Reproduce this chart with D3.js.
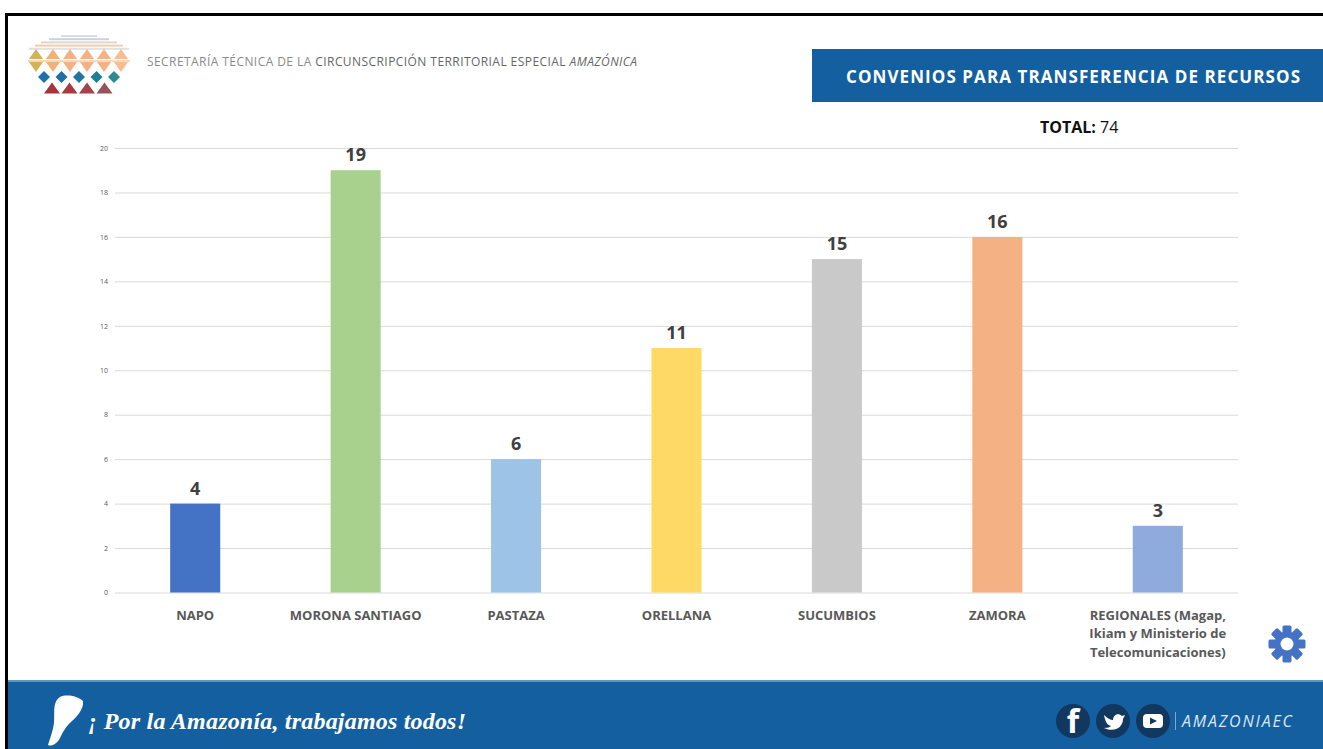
<!DOCTYPE html>
<html>
<head>
<meta charset="utf-8">
<script src="https://cdn.jsdelivr.net/npm/d3@7"></script>
<style>
  html, body { margin: 0; padding: 0; background: #fff; overflow: hidden; }
  text { font-family: "Open Sans", "Noto Sans", sans-serif; }
</style>
</head>
<body>
<script>
// chart data
var categories = ['NAPO', 'MORONA SANTIAGO', 'PASTAZA', 'ORELLANA', 'SUCUMBIOS', 'ZAMORA', 'REGIONALES'];
var values = [4, 19, 6, 11, 15, 16, 3];
var barColors = ['#4472c4', '#a9d18e', '#9dc3e6', '#ffd966', '#c9c9c9', '#f4b183', '#8faadc'];
var yTicks = [0, 2, 4, 6, 8, 10, 12, 14, 16, 18, 20];
var categoryLines = [['NAPO'], ['MORONA SANTIAGO'], ['PASTAZA'], ['ORELLANA'], ['SUCUMBIOS'], ['ZAMORA'],
  ['REGIONALES (Magap,', 'Ikiam y Ministerio de', 'Telecomunicaciones)']];

var blue = '#135f9f';
var outerWidth = 1323;
var outerHeight = 749;

var margin = {top: 148, right: 85, bottom: 156.5, left: 115},
    width = outerWidth - margin.left - margin.right,
    height = outerHeight - margin.top - margin.bottom;

var svg = d3.select('body').append('svg')
    .attr('width', outerWidth)
    .attr('height', outerHeight)
    .style('display', 'block');

// slide frame
svg.append('rect').attr('x', 5).attr('y', 13).attr('width', outerWidth).attr('height', 3).attr('fill', '#000');
svg.append('rect').attr('x', 5).attr('y', 13).attr('width', 3).attr('height', outerHeight).attr('fill', '#000');

// logo rows of small shapes
var logo = svg.append('g');
['#d9dde6', '#c6d3e6', '#e2d5cf', '#efcdb0', '#dfe0e0'].forEach(function(c, i) {
  var half = [18, 30, 38, 44, 50][i];
  logo.append('rect').attr('x', 79 - half).attr('y', 35 + i * 3.2).attr('width', half * 2).attr('height', 2).attr('fill', c);
});
function triangle(cx, cy, s, up) {
  return up ? `M${cx - s},${cy + s * 0.7}L${cx},${cy - s * 0.7}L${cx + s},${cy + s * 0.7}Z`
            : `M${cx - s},${cy - s * 0.7}L${cx},${cy + s * 0.7}L${cx + s},${cy - s * 0.7}Z`;
}
var logoWarm = ['#d4b25a', '#f0b27c', '#f4b183', '#f4b183', '#f4b183', '#f7bd90'];
logoWarm.forEach(function(c, i) {
  var cx = 36 + i * 17;
  logo.append('path').attr('d', triangle(cx, 68 - 14, 7, true)).attr('fill', c);
  logo.append('path').attr('d', triangle(cx, 67, 7, false)).attr('fill', c);
});
logo.append('rect').attr('x', 28).attr('y', 60).attr('width', 102).attr('height', 2).attr('fill', '#f3d9bd');
['#1f6fa8', '#1f6fa8', '#1f76a3', '#1f7d9c', '#2a8a8f'].forEach(function(c, i) {
  var cx = 44 + i * 17.5;
  logo.append('path').attr('d', `M${cx - 6},77L${cx},71L${cx + 6},77L${cx},83Z`).attr('fill', c);
});
['#a8333c', '#a83a42', '#a3434a', '#94555a'].forEach(function(c, i) {
  logo.append('path').attr('d', triangle(52 + i * 17.5, 88, 8, true)).attr('fill', c);
});

// header text
var head = svg.append('text').attr('x', 147).attr('y', 66)
    .style('font-size', '12px').attr('fill', '#8a8a8a').attr('textLength', 490);
head.append('tspan').text('SECRETARÍA TÉCNICA DE LA ');
head.append('tspan').attr('fill', '#666').text('CIRCUNSCRIPCIÓN TERRITORIAL ESPECIAL ');
head.append('tspan').attr('fill', '#666').style('font-style', 'italic').text('AMAZÓNICA');

// title box
svg.append('rect').attr('x', 812).attr('y', 49).attr('width', 511).attr('height', 53).attr('fill', blue);
svg.append('text').attr('x', 846).attr('y', 83).attr('fill', '#fff')
    .attr('textLength', 454)
    .style('font-size', '17px').style('font-weight', 700)
    .text('CONVENIOS PARA TRANSFERENCIA DE RECURSOS');

var total = svg.append('text').attr('x', 1040).attr('y', 133).attr('fill', '#111').style('font-size', '16px');
total.append('tspan').style('font-weight', 700).text('TOTAL: ');
total.append('tspan').text('74');

// scales
var x = d3.scaleBand().domain(categories).range([0, width]).paddingInner(0.688).paddingOuter(0.344);
var y = d3.scaleLinear().domain([0, 20]).range([height, 0]);

var chart = svg.append('g').attr('transform', `translate(${margin.left},${margin.top})`);

// y axis with gridlines
var yAxis = chart.append('g').call(d3.axisLeft(y).tickValues(yTicks).tickSize(-width).tickPadding(7));
yAxis.select('.domain').remove();
yAxis.selectAll('.tick line').attr('stroke', '#d9d9d9');
yAxis.selectAll('.tick text').attr('fill', '#595959').style('font-size', '7px');

// bars
chart.selectAll('.bar')
    .data(values)
  .enter().append('rect')
    .attr('class', 'bar')
    .attr('x', function(d, i) { return x(categories[i]); })
    .attr('y', function(d) { return y(d); })
    .attr('width', x.bandwidth())
    .attr('height', function(d) { return height - y(d); })
    .attr('fill', function(d, i) { return barColors[i]; });

// value labels
chart.selectAll('.val')
    .data(values)
  .enter().append('text')
    .attr('class', 'val')
    .attr('x', function(d, i) { return x(categories[i]) + x.bandwidth() / 2; })
    .attr('y', function(d) { return y(d) - 9; })
    .attr('text-anchor', 'middle')
    .attr('fill', '#404040')
    .style('font-size', '18px')
    .style('font-weight', 700)
    .text(function(d) { return d; });

// category labels
categories.forEach(function(c, i) {
  categoryLines[i].forEach(function(line, j) {
    chart.append('text')
      .attr('x', x(c) + x.bandwidth() / 2)
      .attr('y', height + 27 + j * 18.5)
      .attr('text-anchor', 'middle')
      .attr('fill', '#595959')
      .style('font-size', '13px')
      .style('font-weight', 700)
      .text(line);
  });
});

// gear icon
var gear = svg.append('g').attr('transform', 'translate(1287,644)');
d3.range(8).forEach(function(i) {
  gear.append('rect').attr('x', -4.5).attr('y', -18.5).attr('width', 9).attr('height', 9)
      .attr('rx', 1.5).attr('fill', '#4472c4').attr('transform', `rotate(${i * 45})`);
});
gear.append('circle').attr('r', 12.5).attr('fill', '#4472c4');
gear.append('circle').attr('r', 6.5).attr('fill', '#fff');

// footer band
svg.append('rect').attr('x', 8).attr('y', 681).attr('width', outerWidth).attr('height', 68).attr('fill', blue);
svg.append('rect').attr('x', 8).attr('y', 680).attr('width', outerWidth).attr('height', 2).attr('fill', '#5f97bd');

// map silhouette
svg.append('path')
    .attr('d', 'M60,697C66,694 78,696 83,701C84,708 78,716 72,721C66,726 63,732 60,738C57,744 51,747 48,745C50,738 53,731 54,723C55,714 52,702 60,697Z')
    .attr('fill', '#fff');

svg.append('text').attr('x', 88).attr('y', 729).attr('fill', '#fff')
    .attr('textLength', 378)
    .style('font-family', '"Liberation Serif", serif')
    .style('font-style', 'italic').style('font-weight', 700).style('font-size', '24px')
    .text('¡ Por la Amazonía, trabajamos todos!');

// social icons
var dark = '#12385f';
[1073, 1113, 1153].forEach(function(cx, i) {
  svg.append('circle').attr('cx', cx).attr('cy', 721).attr('r', 17).attr('fill', dark);
});
svg.append('text').attr('x', 1073).attr('y', 733).attr('text-anchor', 'middle').attr('fill', '#fff')
    .style('font-size', '32px').style('font-weight', 700).text('f');
svg.append('path').attr('d', 'M1104,715C1108,719 1111,720 1113,720C1113,715 1118,712 1122,716L1125,715L1123,719C1123,727 1115,733 1104,728C1108,728 1110,727 1111,726C1107,725 1105,721 1104,715Z').attr('fill', '#fff');
svg.append('rect').attr('x', 1143).attr('y', 714).attr('width', 20).attr('height', 14).attr('rx', 4).attr('fill', '#fff');
svg.append('path').attr('d', 'M1150,717.5L1157,721L1150,724.5Z').attr('fill', dark);

svg.append('rect').attr('x', 1175).attr('y', 712).attr('width', 1).attr('height', 18).attr('fill', '#7fa8c9');
svg.append('text').attr('x', 1182).attr('y', 727).attr('fill', '#dbe7f2')
    .attr('textLength', 110)
    .style('font-size', '16px').style('font-style', 'italic').text('AMAZONIAEC');
</script>
</body>
</html>
